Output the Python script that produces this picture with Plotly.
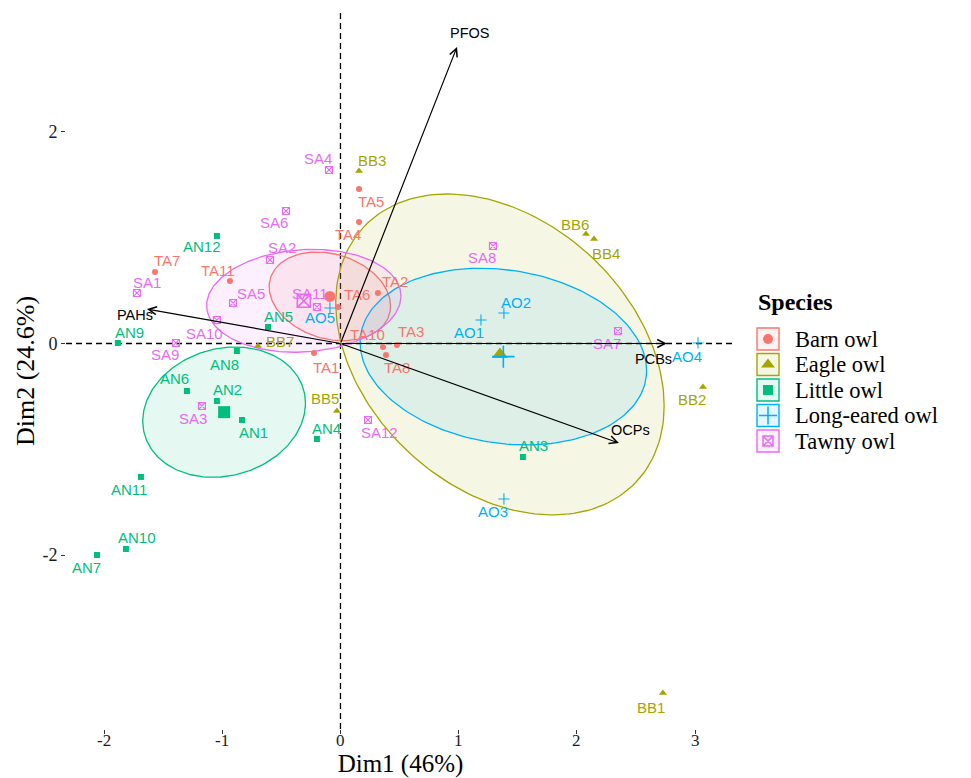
import numpy as np
import plotly.graph_objects as go

# ---- PCA scores (Dim1, Dim2) per individual ----
barn_ids = ["TA1", "TA2", "TA3", "TA4", "TA5", "TA6", "TA7", "TA8", "TA10", "TA11"]
barn_d1 = [-0.224, 0.317, 0.478, 0.157, 0.157, -0.021, -1.569, 0.385, 0.360, -0.935]
barn_d2 = [-0.090, 0.478, -0.014, 1.149, 1.461, 0.345, 0.676, -0.109, -0.033, 0.591]

eagle_ids = ["BB1", "BB2", "BB3", "BB4", "BB5", "BB6", "BB7"]
eagle_d1 = [2.728, 3.067, 0.157, 2.145, -0.030, 2.077, -0.698]
eagle_d2 = [-3.305, -0.411, 1.631, 0.988, -0.638, 1.035, -0.024]

little_ids = ["AN1", "AN2", "AN3", "AN4", "AN5", "AN6", "AN7", "AN8", "AN9", "AN10", "AN11", "AN12"]
little_d1 = [-0.833, -1.045, 1.544, -0.199, -0.613, -1.299, -2.060, -0.876, -1.883, -1.815, -1.688, -1.045]
little_d2 = [-0.723, -0.544, -1.073, -0.903, 0.156, -0.449, -2.000, -0.071, 0.005, -1.943, -1.262, 1.017]

longeared_ids = ["AO1", "AO2", "AO3", "AO4", "AO5"]
longeared_d1 = [1.189, 1.383, 1.383, 3.025, -0.089]
longeared_d2 = [0.222, 0.288, -1.470, 0.005, 0.336]

tawny_ids = ["SA1", "SA2", "SA3", "SA4", "SA5", "SA6", "SA7", "SA8", "SA9", "SA10", "SA11", "SA12"]
tawny_d1 = [-1.722, -0.596, -1.172, -0.097, -0.909, -0.461, 2.348, 1.290, -1.392, -1.045, -0.199, 0.233]
tawny_d2 = [0.478, 0.790, -0.591, 1.641, 0.383, 1.253, 0.118, 0.922, 0.005, 0.222, 0.345, -0.723]

# ---- variable loadings (arrows) ----
var_names = ["PFOS", "PAHs", "PCBs", "OCPs"]
var_d1 = [0.986, -1.637, 2.762, 2.356]
var_d2 = [2.804, 0.326, 0.000, -0.941]

species = ["Barn owl", "Eagle owl", "Little owl", "Long-eared owl", "Tawny owl"]

# axis ticks
x_ticks = [-2, -1, 0, 1, 2, 3]
y_ticks = [-2, 0, 2]

# ---- styling ----
colors = ["#F8766D", "#A3A500", "#00BF7D", "#00B0F6", "#E76BF3"]
symbols = ["circle", "triangle-up", "square", "cross-thin-open", "square-x-open"]
pt_sizes = [6, 7, 6, 8, 7]
mean_sizes = [11, 14, 12, 16, 13]
key_sizes = [10, 12, 10, 13, 10]

# label offsets in pixels (dx right, dy down)
label_offsets = {
    "TA1": (12, 14), "TA2": (17, -11), "TA3": (14, -13), "TA4": (-11, 13), "TA5": (12, 13),
    "TA6": (19, -13), "TA7": (12, -12), "TA8": (11, 12), "TA10": (-16, -12), "TA11": (-12, -11),
    "BB1": (-12, 14), "BB2": (-11, 13), "BB3": (13, -11), "BB4": (12, 14), "BB5": (-12, -12),
    "BB6": (-11, -10), "BB7": (22, -5),
    "AN1": (11, 13), "AN2": (11, -12), "AN3": (11, -11), "AN4": (10, -11), "AN5": (10, -11),
    "AN6": (-12, -12), "AN7": (-10, 12), "AN8": (-12, 13), "AN9": (12, -10), "AN10": (11, -12),
    "AN11": (-12, 13), "AN12": (-15, 11),
    "AO1": (-12, 12), "AO2": (12, -11), "AO3": (-11, 13), "AO4": (-11, 14), "AO5": (-10, 10),
    "SA1": (10, -10), "SA2": (12, -12), "SA3": (-9, 12), "SA4": (-11, -11), "SA5": (18, -10),
    "SA6": (-12, 12), "SA7": (-11, 12), "SA8": (-11, 12), "SA9": (-11, 12), "SA10": (-12, 13),
    "SA11": (-7, -14), "SA12": (11, 13),
}
var_offsets = {"PFOS": (12, -14), "PAHs": (-12, 6), "PCBs": (-13, 15), "OCPs": (12, -13)}

groups = [
    (barn_ids, barn_d1, barn_d2),
    (eagle_ids, eagle_d1, eagle_d2),
    (little_ids, little_d1, little_d2),
    (longeared_ids, longeared_d1, longeared_d2),
    (tawny_ids, tawny_d1, tawny_d2),
]

SANS = "Liberation Sans, Arial, sans-serif"
SERIF = "Liberation Serif, Times New Roman, serif"


def rgba(hex_color, a):
    h = hex_color.lstrip("#")
    r, g, b = int(h[0:2], 16), int(h[2:4], 16), int(h[4:6], 16)
    return f"rgba({r},{g},{b},{a})"


def confidence_ellipse(x, y, level=0.95, n_pts=200):
    """95% confidence ellipse around the group mean."""
    x = np.asarray(x)
    y = np.asarray(y)
    n = len(x)
    cov = np.cov(x, y) / n
    r = np.sqrt(-2.0 * np.log(1.0 - level))  # chi-square quantile, 2 df
    L = np.linalg.cholesky(cov)
    t = np.linspace(0, 2 * np.pi, n_pts)
    circ = np.vstack([np.cos(t), np.sin(t)])
    pts = L @ circ * r
    return x.mean() + pts[0], y.mean() + pts[1]


fig = go.Figure()

# ellipses
for (ids, d1, d2), col in zip(groups, colors):
    ex, ey = confidence_ellipse(d1, d2)
    fig.add_trace(go.Scatter(
        x=ex, y=ey, mode="lines", fill="toself",
        fillcolor=rgba(col, 0.1), line=dict(color=col, width=1.3),
        hoverinfo="skip", showlegend=False,
    ))

# individuals and group means
for (ids, d1, d2), name, col, sym, ps, ms in zip(groups, species, colors, symbols, pt_sizes, mean_sizes):
    open_sym = sym.endswith("open")
    fig.add_trace(go.Scatter(
        x=d1, y=d2, mode="markers", name=name, text=ids,
        marker=dict(symbol=sym, size=ps, color=col,
                    line=dict(color=col, width=1.1 if open_sym else 0)),
        showlegend=False,
    ))
    fig.add_trace(go.Scatter(
        x=[float(np.mean(d1))], y=[float(np.mean(d2))], mode="markers",
        marker=dict(symbol=sym, size=ms, color=col,
                    line=dict(color=col, width=1.6 if open_sym else 0)),
        hoverinfo="skip", showlegend=False,
    ))

annotations = []

# individual labels
for (ids, d1, d2), col in zip(groups, colors):
    for lab, xv, yv in zip(ids, d1, d2):
        dx, dy = label_offsets[lab]
        annotations.append(dict(
            x=xv, y=yv, xref="x", yref="y", text=lab, showarrow=False, borderpad=0,
            xshift=dx, yshift=-dy, font=dict(family=SANS, size=15, color=col),
        ))

# variable arrows and their labels
for name, xv, yv in zip(var_names, var_d1, var_d2):
    annotations.append(dict(
        x=xv, y=yv, xref="x", yref="y", ax=0, ay=0, axref="x", ayref="y",
        showarrow=True, arrowhead=5, arrowsize=1.3, arrowwidth=1.2,
        arrowcolor="black", standoff=0, startstandoff=0, text="",
    ))
    dx, dy = var_offsets[name]
    annotations.append(dict(
        x=xv, y=yv, xref="x", yref="y", text=name, showarrow=False, borderpad=0,
        xshift=dx, yshift=-dy, font=dict(family=SANS, size=14.5, color="black"),
    ))

# x tick labels, set close under the short tick marks
for tv in x_ticks:
    annotations.append(dict(
        x=tv, y=0, xref="x", yref="paper", text=str(tv), showarrow=False,
        xanchor="center", yanchor="top", yshift=-1, borderpad=0,
        font=dict(family=SERIF, size=17, color="#1a1a1a"),
    ))

# reference lines through the origin
shapes = [
    dict(type="line", xref="x domain", yref="y", x0=0, x1=1, y0=0, y1=0,
         line=dict(color="black", width=1.3, dash="6px,4px"), layer="below"),
    dict(type="line", xref="x", yref="y domain", x0=0, x1=0, y0=0, y1=1,
         line=dict(color="black", width=1.3, dash="6px,4px"), layer="below"),
]

# ---- legend panel (drawn on a pixel-scaled auxiliary axis pair) ----
key_x0, key_x1 = 757, 779
key_rows = [339, 364.5, 390, 415.5, 441]
annotations.append(dict(
    x=756, y=302, xref="x2", yref="y2", text="<b>Species</b>", showarrow=False,
    xanchor="left", yanchor="middle", font=dict(family=SERIF, size=24, color="black"),
))
for name, col, sym, ks, yk in zip(species, colors, symbols, key_sizes, key_rows):
    shapes.append(dict(
        type="rect", xref="x2", yref="y2", x0=key_x0, x1=key_x1, y0=yk - 11, y1=yk + 11,
        line=dict(color=col, width=1.4), fillcolor=rgba(col, 0.1),
    ))
    annotations.append(dict(
        x=794, y=yk, xref="x2", yref="y2", text=name, showarrow=False,
        xanchor="left", yanchor="middle", borderpad=0,
        font=dict(family=SERIF, size=22.5, color="black"),
    ))
    open_sym = sym.endswith("open")
    fig.add_trace(go.Scatter(
        x=[(key_x0 + key_x1) / 2], y=[yk], xaxis="x2", yaxis="y2", mode="markers",
        marker=dict(symbol=sym, size=ks, color=col,
                    line=dict(color=col, width=1.5 if open_sym else 0)),
        hoverinfo="skip", showlegend=False,
    ))

W, H = 971, 778
ML, MR, MT, MB = 66, 0, 13, 49
panel_right = 735
main_frac = (panel_right - ML) / (W - ML - MR)

fig.update_layout(
    width=W, height=H,
    margin=dict(l=ML, r=MR, t=MT, b=MB),
    paper_bgcolor="white", plot_bgcolor="white",
    showlegend=False,
    annotations=annotations,
    shapes=shapes,
    xaxis=dict(
        domain=[0, main_frac], range=[-2.322, 3.338],
        tickvals=x_ticks, showticklabels=False,
        ticks="outside", ticklen=4, tickcolor="#333", tickwidth=1,
        showgrid=False, zeroline=False, showline=False,
        title=dict(text="Dim1 (46%)", font=dict(family=SERIF, size=25, color="black"), standoff=21),
    ),
    yaxis=dict(
        domain=[0, 1], range=[-3.645, 3.125],
        tickvals=y_ticks, ticktext=[str(v) for v in y_ticks],
        ticks="outside", ticklen=4, tickcolor="#333", tickwidth=1,
        showgrid=False, zeroline=False, showline=False,
        tickfont=dict(family=SERIF, size=18, color="#1a1a1a"),
        title=dict(text="Dim2 (24.6%)", font=dict(family=SERIF, size=26, color="black"), standoff=0),
    ),
    xaxis2=dict(domain=[main_frac, 1], range=[panel_right, W], anchor="y2", visible=False),
    yaxis2=dict(domain=[0, 1], range=[H - MB, MT], anchor="x2", visible=False),
)

fig.write_html("out.html")
